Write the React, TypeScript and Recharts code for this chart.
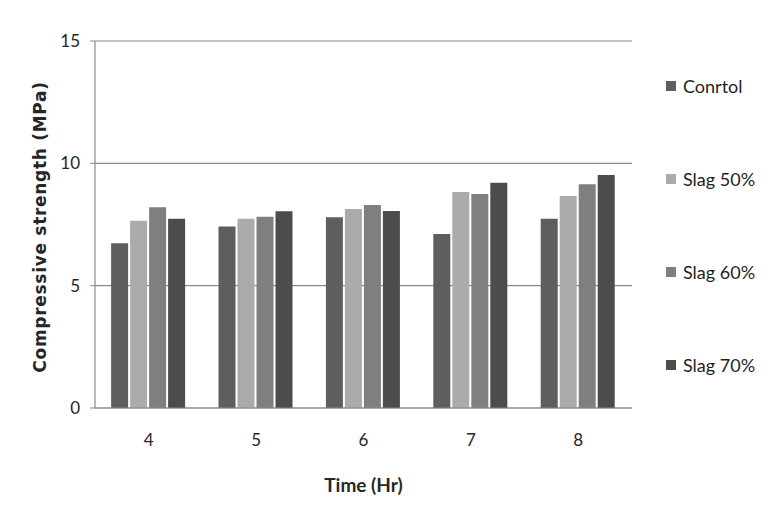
import React from "react";
import { BarChart, Bar, XAxis, YAxis, CartesianGrid, Label } from "recharts";

const hours = ["4", "5", "6", "7", "8"];
const control = [6.73, 7.42, 7.8, 7.11, 7.74];
const slag50 = [7.65, 7.74, 8.13, 8.83, 8.66];
const slag60 = [8.2, 7.82, 8.3, 8.75, 9.14];
const slag70 = [7.74, 8.04, 8.05, 9.21, 9.52];
const yTicks = [0, 5, 10, 15];

const series = [
  { key: "control", name: "Conrtol", color: "#5e5e5e", values: control },
  { key: "slag50", name: "Slag 50%", color: "#ababab", values: slag50 },
  { key: "slag60", name: "Slag 60%", color: "#7f7f7f", values: slag60 },
  { key: "slag70", name: "Slag 70%", color: "#4c4c4c", values: slag70 },
];

const data = hours.map((h, i) => {
  const row: Record<string, string | number> = { hour: h };
  series.forEach((s) => (row[s.key] = s.values[i]));
  return row;
});

const font = "Lato, 'Open Sans', sans-serif";
const tickStyle = { fill: "#262626", fontSize: 17, fontFamily: font };

export default function App() {
  return (
    <div style={{ position: "absolute", left: 0, top: 0, width: 782, height: 512, background: "#fff" }}>
      <BarChart
        width={782}
        height={512}
        data={data}
        margin={{ top: 41, right: 150, left: 0, bottom: 0 }}
        barCategoryGap="15%"
        barGap={2}
      >
        <CartesianGrid vertical={false} stroke="#8a8a8a" strokeWidth={1.2} />
        <XAxis
          dataKey="hour"
          height={104}
          tick={tickStyle}
          tickLine={false}
          tickMargin={20}
          axisLine={{ stroke: "#8a8a8a", strokeWidth: 1.2 }}
        >
          <Label
            content={({ viewBox }: any) => (
              <text
                x={viewBox.x + viewBox.width / 2}
                y={viewBox.y + 84}
                textAnchor="middle"
                fontFamily={font}
                fontSize={19}
                fontWeight="bold"
                fill="#262626"
              >
                Time (Hr)
              </text>
            )}
          />
        </XAxis>
        <YAxis
          width={95}
          domain={[0, 15]}
          ticks={yTicks}
          tick={tickStyle}
          tickSize={5}
          tickMargin={10}
          tickLine={{ stroke: "#8a8a8a" }}
          axisLine={{ stroke: "#8a8a8a", strokeWidth: 1.2 }}
        >
          <Label
            content={({ viewBox }: any) => {
              const cx = viewBox.x + 40;
              const cy = 227;
              return (
                <text
                  x={cx}
                  y={cy}
                  transform={`rotate(-90, ${cx}, ${cy})`}
                  textAnchor="middle"
                  dominantBaseline="central"
                  fontFamily="'DejaVu Sans', sans-serif"
                  fontSize={17}
                  fontWeight="bold"
                  letterSpacing={0.7}
                  fill="#262626"
                >
                  Compressive strength (MPa)
                </text>
              );
            }}
          />
        </YAxis>
        {series.map((s) => (
          <Bar key={s.key} dataKey={s.key} name={s.name} fill={s.color} isAnimationActive={false} />
        ))}
      </BarChart>
      {series.map((s, i) => (
        <div
          key={s.key}
          style={{
            position: "absolute",
            left: 666,
            top: 86 + i * 93 - 12,
            height: 24,
            display: "flex",
            alignItems: "center",
            fontFamily: font,
            fontSize: 18,
            color: "#1f1f1f",
          }}
        >
          <span style={{ display: "inline-block", width: 10, height: 10, background: s.color, marginRight: 7 }} />
          {s.name}
        </div>
      ))}
    </div>
  );
}
